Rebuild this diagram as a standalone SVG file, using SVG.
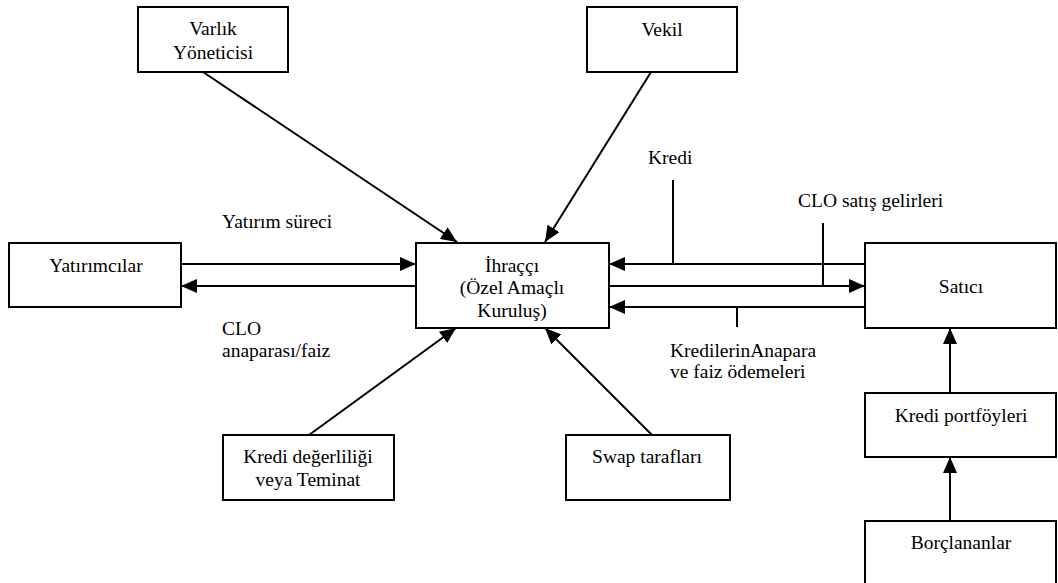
<svg xmlns="http://www.w3.org/2000/svg" width="1058" height="583" viewBox="0 0 1058 583" font-family="'Liberation Serif', 'Times New Roman', serif" font-size="19.5">
<style>
.box{fill:#fff;stroke:#000;stroke-width:2}
.ln{fill:none;stroke:#000;stroke-width:2}
.arr{fill:none;stroke:#000;stroke-width:2;marker-end:url(#ah)}
.c{text-anchor:middle}
</style>
<defs>
<marker id="ah" viewBox="0 0 16 14" refX="16" refY="7" markerWidth="16" markerHeight="14" markerUnits="userSpaceOnUse" orient="auto">
<path d="M0,0 L16,7 L0,14 Z" fill="#000"/>
</marker>
</defs>
<rect width="1058" height="583" fill="#fff"/>
<g id="connectors">
<line class="arr" x1="203" y1="72" x2="457" y2="242"/>
<line class="arr" x1="651" y1="72" x2="545" y2="242"/>
<line class="arr" x1="309" y1="435" x2="456" y2="328"/>
<line class="arr" x1="652" y1="435" x2="545" y2="328"/>
<line class="arr" x1="181" y1="264" x2="416" y2="264"/>
<line class="arr" x1="416" y1="286" x2="181" y2="286"/>
<line class="arr" x1="865" y1="264" x2="609" y2="264"/>
<line class="arr" x1="609" y1="286" x2="865" y2="286"/>
<line class="arr" x1="865" y1="307" x2="609" y2="307"/>
<line class="ln" x1="673" y1="180" x2="673" y2="264"/>
<line class="ln" x1="823" y1="223" x2="823" y2="286"/>
<line class="ln" x1="737" y1="307" x2="737" y2="327"/>
<line class="arr" x1="950" y1="393" x2="950" y2="328"/>
<line class="arr" x1="950" y1="521" x2="950" y2="457"/>
<text x="222" y="228">Yatırım süreci</text>
<text x="222" y="335">CLO</text>
<text x="222" y="357">anaparası/faiz</text>
<text x="648" y="164">Kredi</text>
<text x="798" y="207">CLO satış gelirleri</text>
<text x="670" y="357">KredilerinAnapara</text>
<text x="670" y="378">ve faiz ödemeleri</text>
</g>
<g id="varlik">
<rect class="box" x="138" y="7" width="150" height="65"/>
<text class="c" x="213" y="35">Varlık</text>
<text class="c" x="213" y="59">Yöneticisi</text>
</g>
<g id="vekil">
<rect class="box" x="587" y="7" width="150" height="65"/>
<text class="c" x="662" y="36">Vekil</text>
</g>
<g id="yatirimcilar">
<rect class="box" x="9" y="243" width="172" height="64"/>
<text class="c" x="96" y="272">Yatırımcılar</text>
</g>
<g id="ihracci">
<rect class="box" x="416" y="243" width="193" height="85"/>
<text class="c" x="512" y="272">İhraççı</text>
<text class="c" x="512" y="294">(Özel Amaçlı</text>
<text class="c" x="512" y="317">Kuruluş)</text>
</g>
<g id="satici">
<rect class="box" x="865" y="243" width="191" height="85"/>
<text class="c" x="961" y="293">Satıcı</text>
</g>
<g id="kredi-portfoyleri">
<rect class="box" x="865" y="393" width="191" height="64"/>
<text class="c" x="961" y="422">Kredi portföyleri</text>
</g>
<g id="borclananlar">
<rect class="box" x="865" y="521" width="191" height="70"/>
<text class="c" x="961" y="549">Borçlananlar</text>
</g>
<g id="kredi-degerliligi">
<rect class="box" x="223" y="435" width="171" height="65"/>
<text class="c" x="308" y="463">Kredi değerliliği</text>
<text class="c" x="308" y="486">veya Teminat</text>
</g>
<g id="swap">
<rect class="box" x="566" y="435" width="164" height="65"/>
<text class="c" x="647" y="463">Swap tarafları</text>
</g>
</svg>
